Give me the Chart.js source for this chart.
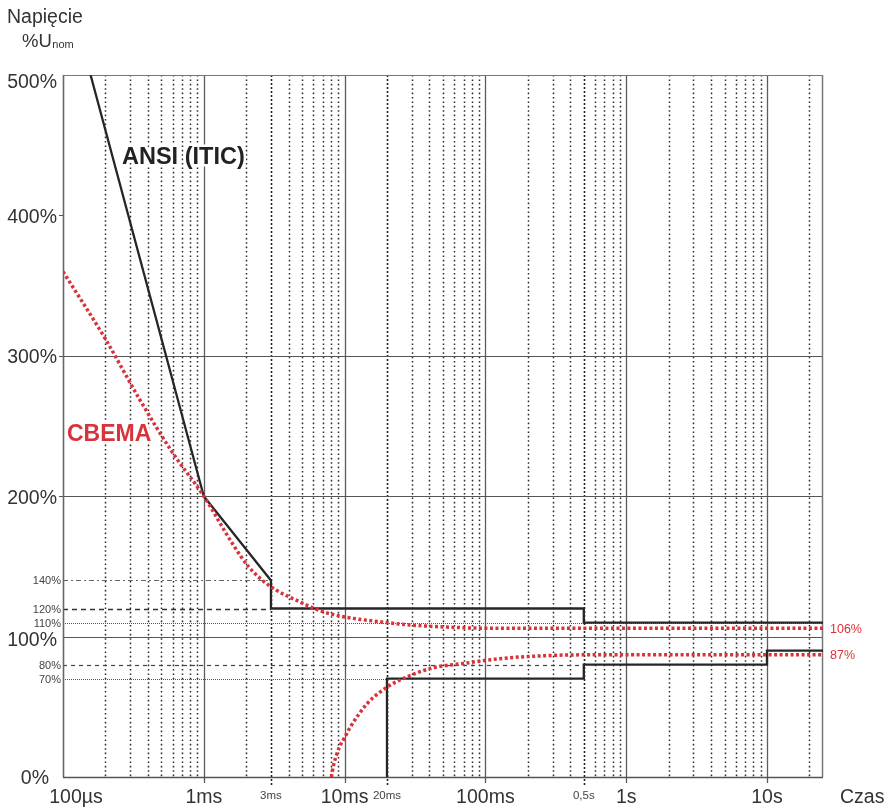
<!DOCTYPE html>
<html><head><meta charset="utf-8">
<script src="https://cdn.jsdelivr.net/npm/chart.js@4/dist/chart.umd.min.js"></script>
<style>html,body{margin:0;padding:0;background:#fff}</style>
</head><body>
<canvas id="c" width="886" height="810" style="display:block;width:886px;height:810px"></canvas>
<script>
// ---- data (time in seconds, voltage in % of Unom) ----
const iticUpperT = [1.57e-4, 1e-3, 3e-3, 3e-3, 0.5, 0.5, 25];
const iticUpperV = [500, 200, 140, 120, 120, 110, 110];
const iticLowerT = [0.02, 0.02, 0.5, 0.5, 10, 10, 25];
const iticLowerV = [0, 70, 70, 80, 80, 90, 90];
const cbemaUpperT = [1e-4, 2e-4, 3.5e-4, 6e-4, 1e-3, 1.58e-3, 2.09e-3, 2.9e-3, 4.74e-3, 6.9e-3, 1e-2, 2e-2, 2.9e-2, 5.3e-2, 0.1, 25];
const cbemaUpperV = [360, 312, 269, 231, 200, 167, 149.5, 136.5, 125, 118, 114, 110, 108.3, 106.8, 106, 106];
const cbemaLowerT = [8.05e-3, 8.35e-3, 8.75e-3, 9.2e-3, 1e-2, 1.09e-2, 1.44e-2, 2e-2, 2.76e-2, 4.2e-2, 7.4e-2, 0.12, 0.2, 0.5, 25];
const cbemaLowerV = [0, 8.5, 15.5, 21.5, 28, 35, 52, 64, 71.2, 77.6, 81.2, 84, 85.8, 87, 87];

const xMajorTicks = [1e-4, 1e-3, 1e-2, 0.1, 1, 10];
const xMajorLabels = ['100µs', '1ms', '10ms', '100ms', '1s', '10s'];
const xMinorTicks = [0.003, 0.02, 0.5];
const xMinorLabels = ['3ms', '20ms', '0,5s'];
const yMajorTicks = [0, 100, 200, 300, 400, 500];
const yMajorLabels = ['0%', '100%', '200%', '300%', '400%', '500%'];
const yMinorTicks = [70, 80, 110, 120, 140];
const yMinorLabels = ['70%', '80%', '110%', '120%', '140%'];
const yGridSolid = [100, 200, 300];
const cbemaEndLabels = ['106%', '87%'];
const cbemaEndValues = [106, 87];

const X_MIN = 1e-4, X_MAX = 25;
const RED = '#d8323b';
const FONT = '"Liberation Sans", Arial, Helvetica, sans-serif';

const pts = (t, v) => t.map((x, i) => ({x: x, y: v[i]}));

const decorPlugin = {
  id: 'decor',
  beforeDatasetsDraw(chart) {
    const {ctx, chartArea: a, scales: {x, y}} = chart;
    const line = (x0, y0, x1, y1, color, w, dash) => {
      ctx.save();
      ctx.strokeStyle = color; ctx.lineWidth = w; ctx.setLineDash(dash || []);
      ctx.beginPath(); ctx.moveTo(x0, y0); ctx.lineTo(x1, y1); ctx.stroke();
      ctx.restore();
    };
    const special = xMinorTicks;
    // minor dotted verticals
    xMajorTicks.forEach(d => {
      for (let k = 2; k <= 9; k++) {
        const v = k * d;
        if (v > X_MAX) continue;
        if (special.some(s => Math.abs(s - v) / v < 1e-6)) continue;
        const px = Math.round(x.getPixelForValue(v)) + 0.5;
        line(px, a.top, px, a.bottom, '#2a2a2a', 1.5, [1.6, 2.8]);
      }
    });
    // special dense verticals
    special.forEach(v => {
      const px = Math.round(x.getPixelForValue(v)) + 0.5;
      line(px, a.top, px, a.bottom + 8, '#222', 1.6, [2, 2]);
    });
    // decade solid verticals
    xMajorTicks.slice(1).forEach(v => {
      const px = Math.round(x.getPixelForValue(v)) + 0.5;
      line(px, a.top, px, a.bottom + 6, '#5c5c5c', 1.3);
    });
    // horizontal solid grid
    yGridSolid.forEach(v => {
      const py = Math.round(y.getPixelForValue(v)) + 0.5;
      line(a.left, py, a.right, py, '#555', 1.1);
    });
    // minor horizontal reference lines
    const hl = (v, t1, color, w, dash) => {
      const py = Math.round(y.getPixelForValue(v)) + 0.5;
      line(a.left, py, x.getPixelForValue(t1), py, color, w, dash);
    };
    hl(140, 3e-3, '#666', 1, [5, 3, 2, 3]);
    hl(120, 3e-3, '#333', 1.3, [5, 4]);
    hl(110, X_MAX, '#555', 1, [1, 1]);
    hl(80, 0.5, '#444', 1.2, [4, 4]);
    hl(70, 0.02, '#555', 1, [1, 1]);
    // frame
    line(a.left, a.top + 0.5, a.right, a.top + 0.5, '#777', 1.2);
    line(a.right - 0.5, a.top, a.right - 0.5, a.bottom, '#777', 1.5);
    line(a.left + 0.5, a.top, a.left + 0.5, a.bottom, '#666', 1.6);
    line(a.left, a.bottom + 0.5, a.right, a.bottom + 0.5, '#555', 1.4);
    // y ticks
    [200, 300, 400].forEach(v => {
      const py = Math.round(y.getPixelForValue(v)) + 0.5;
      line(a.left - 4, py, a.left, py, '#555', 1);
    });
  },
  afterDatasetsDraw(chart) {
    const {ctx, chartArea: a, scales: {x, y}} = chart;
    ctx.save();
    const txt = (s, px, py, font, color, align, halo) => {
      ctx.font = font; ctx.textAlign = align || 'left'; ctx.textBaseline = 'middle';
      if (halo) { ctx.lineWidth = 5; ctx.strokeStyle = '#fff'; ctx.lineJoin = 'round'; ctx.strokeText(s, px, py); }
      ctx.fillStyle = color; ctx.fillText(s, px, py);
    };
    // series labels
    txt('ANSI (ITIC)', 122, 158, 'bold 23.5px ' + FONT, '#222', 'left', true);
    txt('CBEMA', 67, 435, 'bold 23px ' + FONT, RED, 'left', true);
    cbemaEndLabels.forEach((s, i) => {
      txt(s, a.right + 7, y.getPixelForValue(cbemaEndValues[i]) + 1, '12.5px ' + FONT, RED, 'left');
    });
    // y labels
    yMajorTicks.forEach((v, i) => {
      let py = y.getPixelForValue(v) + 2;
      let px = a.left - 6;
      if (v === 500) py += 6;
      if (v === 100) py += 2;
      if (v === 0) px -= 8;
      txt(yMajorLabels[i], px, py, '19.5px ' + FONT, '#333', 'right');
    });
    yMinorTicks.forEach((v, i) => {
      txt(yMinorLabels[i], a.left - 2, y.getPixelForValue(v) + 1, '11px ' + FONT, '#444', 'right');
    });
    // x labels
    xMajorTicks.forEach((v, i) => {
      let px = x.getPixelForValue(v);
      if (i === 0) px += 13;
      txt(xMajorLabels[i], px, a.bottom + 21, '19.5px ' + FONT, '#333', 'center');
    });
    xMinorTicks.forEach((v, i) => {
      txt(xMinorLabels[i], x.getPixelForValue(v), a.bottom + 19, '11.5px ' + FONT, '#444', 'center');
    });
    txt('Czas', 840, a.bottom + 21, '19.5px ' + FONT, '#333', 'left');
    // axis title
    ctx.textBaseline = 'alphabetic'; ctx.textAlign = 'left'; ctx.fillStyle = '#333';
    ctx.font = '19.5px ' + FONT; ctx.fillText('Napięcie', 7, 23);
    ctx.font = '18.5px ' + FONT; ctx.fillText('%U', 22, 47);
    const w = ctx.measureText('%U').width;
    ctx.font = '11px ' + FONT; ctx.fillText('nom', 22 + w + 0.5, 48);
    ctx.restore();
  }
};

new Chart(document.getElementById('c'), {
  type: 'line',
  data: {
    datasets: [
      {data: pts(cbemaUpperT, cbemaUpperV), borderColor: RED, borderWidth: 3.5, borderDash: [3, 2.5], cubicInterpolationMode: 'monotone', pointRadius: 0, fill: false},
      {data: pts(cbemaLowerT, cbemaLowerV), borderColor: RED, borderWidth: 3.5, borderDash: [3, 2.5], cubicInterpolationMode: 'monotone', pointRadius: 0, fill: false},
      {data: pts(iticUpperT, iticUpperV), borderColor: '#262626', borderWidth: 2.3, tension: 0, pointRadius: 0, fill: false},
      {data: pts(iticLowerT, iticLowerV), borderColor: '#262626', borderWidth: 2.3, tension: 0, pointRadius: 0, fill: false}
    ]
  },
  options: {
    responsive: false,
    animation: false,
    devicePixelRatio: 1,
    layout: {padding: {left: 63, top: 75, right: 63, bottom: 33}},
    plugins: {legend: {display: false}, tooltip: {enabled: false}},
    scales: {
      x: {type: 'logarithmic', min: X_MIN, max: X_MAX, display: false, bounds: 'data'},
      y: {type: 'linear', min: 0, max: 500, display: false}
    }
  },
  plugins: [decorPlugin]
});
</script>
</body></html>
